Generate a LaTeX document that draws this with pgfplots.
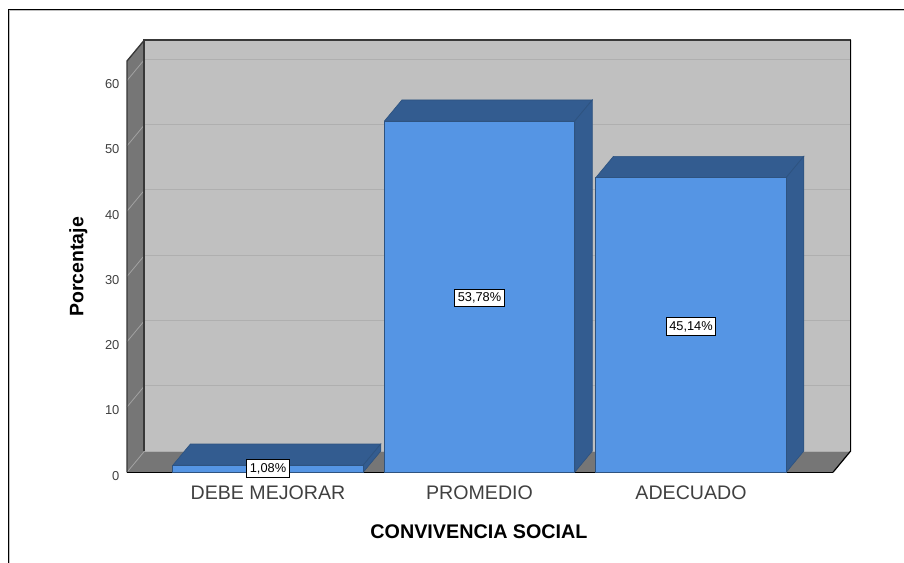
\documentclass[border=0pt]{standalone}
\usepackage{pgfplots}
\pgfplotsset{compat=1.18}
\usepackage{fontspec}
\setmainfont{Liberation Sans}
\definecolor{wall}{HTML}{C0C0C0}
\definecolor{floorc}{HTML}{767676}
\definecolor{gridb}{HTML}{AFAFAF}
\definecolor{grids}{HTML}{A2A2A2}
\definecolor{edge}{HTML}{383838}
\definecolor{barf}{HTML}{5595E4}
\definecolor{bart}{HTML}{335C90}
\definecolor{bare}{HTML}{2E5380}
\begin{document}
\begin{tikzpicture}
\path[use as bounding box] (0,0) rectangle (678pt,422.25pt);
\begin{axis}[
  at={(95.25pt,68.03pt)}, anchor=south west,
  scale only axis, width=529.5pt, height=308.48pt,
  xmin=-0.6667, xmax=2.6714, ymin=0, ymax=63,
  clip=false,
  axis line style={draw=none}, tick style={draw=none},
  major tick length=0pt,
  xtick={0,1,2}, xticklabels={DEBE MEJORAR,PROMEDIO,ADECUADO},
  ytick={0,10,20,30,40,50,60},
  /pgf/number format/assume math mode=true,
  xticklabel style={font=\fontsize{14.7}{16}\selectfont, text=black!75, anchor=base, yshift=-20.2pt},
  yticklabel style={font=\fontsize{9.7}{11}\selectfont, text=black!75, anchor=east, inner sep=0pt, xshift=-5.5pt, yshift=-2.6pt},
  xlabel={CONVIVENCIA SOCIAL}, ylabel={Porcentaje},
  every axis x label/.style={at={(axis description cs:0.4986,-0.1451)}, anchor=center, font=\fontsize{14.8}{17}\selectfont\bfseries},
  every axis y label/.style={at={(axis description cs:-0.0688,0.4995)}, anchor=center, rotate=90, font=\fontsize{14.6}{17}\selectfont\bfseries},
]
% back wall
\addplot[fill=wall, draw=none] coordinates {(-0.5835,3.25)(2.7546,3.25)(2.7546,66.25)(-0.5835,66.25)(-0.5835,3.25)};
% side wall
\addplot[fill=floorc, draw=none] coordinates {(-0.6667,0)(-0.5835,3.25)(-0.5835,66.25)(-0.6667,63)(-0.6667,0)};
% floor
\addplot[fill=floorc, draw=none] coordinates {(-0.6667,0)(2.6714,0)(2.7546,3.25)(-0.5835,3.25)(-0.6667,0)};
% grid on the back wall and side wall
\addplot[gridb, line width=0.75pt] coordinates {(-0.5835,3.25)(2.7546,3.25)};
\addplot[gridb, line width=0.75pt] coordinates {(-0.5835,13.25)(2.7546,13.25)};
\addplot[gridb, line width=0.75pt] coordinates {(-0.5835,23.25)(2.7546,23.25)};
\addplot[gridb, line width=0.75pt] coordinates {(-0.5835,33.25)(2.7546,33.25)};
\addplot[gridb, line width=0.75pt] coordinates {(-0.5835,43.25)(2.7546,43.25)};
\addplot[gridb, line width=0.75pt] coordinates {(-0.5835,53.25)(2.7546,53.25)};
\addplot[gridb, line width=0.75pt] coordinates {(-0.5835,63.25)(2.7546,63.25)};
\addplot[grids, line width=0.6pt] coordinates {(-0.6667,0)(-0.5835,3.25)};
\addplot[grids, line width=0.6pt] coordinates {(-0.6667,10)(-0.5835,13.25)};
\addplot[grids, line width=0.6pt] coordinates {(-0.6667,20)(-0.5835,23.25)};
\addplot[grids, line width=0.6pt] coordinates {(-0.6667,30)(-0.5835,33.25)};
\addplot[grids, line width=0.6pt] coordinates {(-0.6667,40)(-0.5835,43.25)};
\addplot[grids, line width=0.6pt] coordinates {(-0.6667,50)(-0.5835,53.25)};
\addplot[grids, line width=0.6pt] coordinates {(-0.6667,60)(-0.5835,63.25)};
% edges
\addplot[edge, line width=1.4pt] coordinates {(-0.5865,3.25)(-0.5865,66.25)(2.7546,66.25)};
\addplot[black, line width=0.9pt] coordinates {(2.6714,0)(2.7546,3.25)(2.7546,66.25)};
\addplot[edge, line width=1pt] coordinates {(-0.5835,66.25)(-0.6667,63)(-0.6667,0)};
\addplot[black, line width=1.1pt] coordinates {(-0.6667,0)(2.6714,0)};
% bars: top and side faces
\addplot[fill=bart, draw=bare, line width=0.5pt] coordinates {(-0.45,1.08)(0.45,1.08)(0.5332,4.33)(-0.3668,4.33)(-0.45,1.08)};
\addplot[fill=bart, draw=bare, line width=0.5pt] coordinates {(0.45,0)(0.5332,3.25)(0.5332,4.33)(0.45,1.08)(0.45,0)};
\addplot[fill=bart, draw=bare, line width=0.5pt] coordinates {(0.55,53.78)(1.45,53.78)(1.5332,57.03)(0.6332,57.03)(0.55,53.78)};
\addplot[fill=bart, draw=bare, line width=0.5pt] coordinates {(1.45,0)(1.5332,3.25)(1.5332,57.03)(1.45,53.78)(1.45,0)};
\addplot[fill=bart, draw=bare, line width=0.5pt] coordinates {(1.55,45.14)(2.45,45.14)(2.5332,48.39)(1.6332,48.39)(1.55,45.14)};
\addplot[fill=bart, draw=bare, line width=0.5pt] coordinates {(2.45,0)(2.5332,3.25)(2.5332,48.39)(2.45,45.14)(2.45,0)};
% bars: front faces
\addplot[ybar, bar shift=0pt, bar width=142.9pt, fill=barf, draw=bare, line width=0.5pt] coordinates {(0,1.08)(1,53.78)(2,45.14)};
% value labels
\addplot[draw=none, mark=none, point meta=explicit symbolic,
  nodes near coords, nodes near coords align={anchor=center},
  every node near coord/.append style={anchor=center, draw=black, fill=white, line width=0.7pt,
    font=\fontsize{9.6}{10}\selectfont, text=black, inner xsep=2.2pt, inner ysep=0pt, minimum height=13.4pt}]
  coordinates {(0,0.54)[1,08\%] (1,26.7)[53,78\%] (2,22.3)[45,14\%]};
\end{axis}
% outer frame of the picture
\draw[black, line width=0.75pt] (6.4pt,0pt) -- (6.4pt,415.1pt) -- (678pt,415.1pt);
\draw[black!25, line width=0.5pt] (7.2pt,0pt) -- (7.2pt,414.3pt) -- (678pt,414.3pt);
\end{tikzpicture}
\end{document}
